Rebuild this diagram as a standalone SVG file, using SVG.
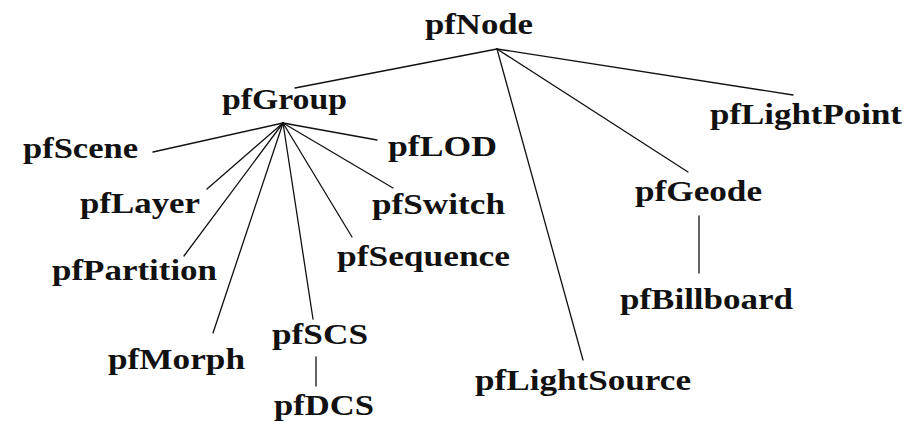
<svg xmlns="http://www.w3.org/2000/svg" width="919" height="422" viewBox="0 0 919 422">
  <style>
    .lbl { font-family: "Liberation Serif", "Times New Roman", serif; font-weight: bold; font-size: 30px; fill: #111; }
    .edge { stroke: #111; stroke-width: 1.3; fill: none; stroke-linecap: round; }
  </style>
  <rect width="919" height="422" fill="#fff"/>

  <!-- class hierarchy edges -->
  <g id="connectors">
    <line class="edge" x1="497" y1="49" x2="295" y2="88"/>
    <line class="edge" x1="497" y1="49" x2="793" y2="95"/>
    <line class="edge" x1="497" y1="49" x2="688" y2="172"/>
    <line class="edge" x1="497" y1="49" x2="583" y2="360"/>
    <line class="edge" x1="699" y1="216" x2="699" y2="273"/>
    <line class="edge" x1="283" y1="123" x2="153" y2="152"/>
    <line class="edge" x1="283" y1="123" x2="377" y2="140"/>
    <line class="edge" x1="283" y1="123" x2="207" y2="189"/>
    <line class="edge" x1="283" y1="123" x2="393" y2="188"/>
    <line class="edge" x1="283" y1="123" x2="184" y2="256"/>
    <line class="edge" x1="283" y1="123" x2="352" y2="237"/>
    <line class="edge" x1="283" y1="123" x2="213" y2="333"/>
    <line class="edge" x1="283" y1="123" x2="313" y2="319"/>
    <line class="edge" x1="316" y1="357" x2="316" y2="386"/>
  </g>

  <g id="pfNode"><text class="lbl" x="425" y="34" textLength="108" lengthAdjust="spacingAndGlyphs">pfNode</text></g>
  <g id="pfGroup"><text class="lbl" x="222" y="109" textLength="125" lengthAdjust="spacingAndGlyphs">pfGroup</text></g>
  <g id="pfScene"><text class="lbl" x="23" y="158" textLength="115" lengthAdjust="spacingAndGlyphs">pfScene</text></g>
  <g id="pfLOD"><text class="lbl" x="388" y="156" textLength="109" lengthAdjust="spacingAndGlyphs">pfLOD</text></g>
  <g id="pfLayer"><text class="lbl" x="80" y="213" textLength="120" lengthAdjust="spacingAndGlyphs">pfLayer</text></g>
  <g id="pfSwitch"><text class="lbl" x="372" y="214" textLength="133" lengthAdjust="spacingAndGlyphs">pfSwitch</text></g>
  <g id="pfPartition"><text class="lbl" x="52" y="280" textLength="165" lengthAdjust="spacingAndGlyphs">pfPartition</text></g>
  <g id="pfSequence"><text class="lbl" x="337" y="266" textLength="173" lengthAdjust="spacingAndGlyphs">pfSequence</text></g>
  <g id="pfMorph"><text class="lbl" x="108" y="369" textLength="137" lengthAdjust="spacingAndGlyphs">pfMorph</text></g>
  <g id="pfSCS"><text class="lbl" x="272" y="344" textLength="96" lengthAdjust="spacingAndGlyphs">pfSCS</text></g>
  <g id="pfDCS"><text class="lbl" x="274" y="415" textLength="100" lengthAdjust="spacingAndGlyphs">pfDCS</text></g>
  <g id="pfLightPoint"><text class="lbl" x="710" y="124" textLength="192" lengthAdjust="spacingAndGlyphs">pfLightPoint</text></g>
  <g id="pfGeode"><text class="lbl" x="635" y="201" textLength="127" lengthAdjust="spacingAndGlyphs">pfGeode</text></g>
  <g id="pfBillboard"><text class="lbl" x="620" y="309" textLength="173" lengthAdjust="spacingAndGlyphs">pfBillboard</text></g>
  <g id="pfLightSource"><text class="lbl" x="475" y="390" textLength="216" lengthAdjust="spacingAndGlyphs">pfLightSource</text></g>
</svg>
